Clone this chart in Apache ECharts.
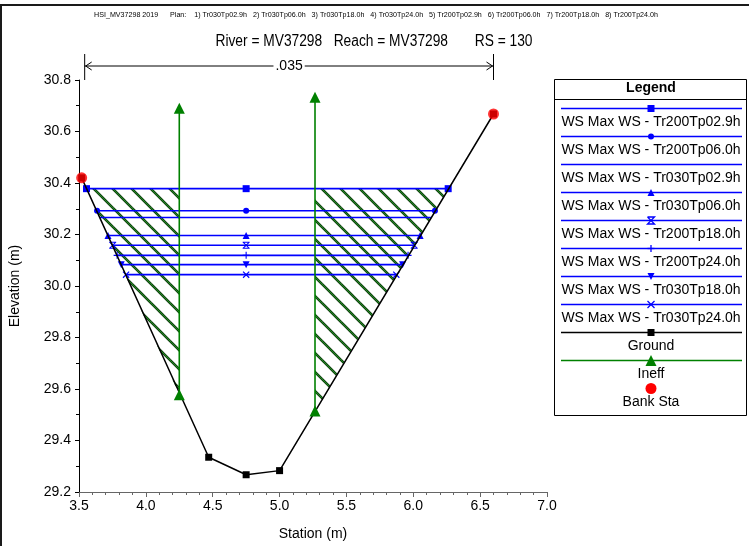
<!DOCTYPE html>
<html><head><meta charset="utf-8">
<script src="https://cdn.jsdelivr.net/npm/echarts@6/dist/echarts.min.js"></script>
<style>html,body{margin:0;padding:0;background:#fff}#c{width:749px;height:546px}</style>
</head><body><div id="c"></div>
<script>
// ---- data ----
const wsNames = ['WS Max WS - Tr200Tp02.9h','WS Max WS - Tr200Tp06.0h','WS Max WS - Tr030Tp02.9h','WS Max WS - Tr030Tp06.0h','WS Max WS - Tr200Tp18.0h','WS Max WS - Tr200Tp24.0h','WS Max WS - Tr030Tp18.0h','WS Max WS - Tr030Tp24.0h'];
const wsElev  = [30.378, 30.292, 30.266, 30.196, 30.158, 30.119, 30.083, 30.044];
const wsLeft  = [3.556, 3.635, 3.654, 3.717, 3.752, 3.785, 3.816, 3.852];
const wsRight = [6.261, 6.162, 6.132, 6.051, 6.007, 5.961, 5.920, 5.873];
const wsMid = 4.75;
const groundSta  = [3.52, 4.47, 4.75, 5.0, 6.6];
const groundElev = [30.42, 29.335, 29.267, 29.283, 30.668];
const bankSta  = [3.52, 6.6];
const bankElev = [30.42, 30.668];
const ineffSta    = [4.25, 5.265];
const ineffBottom = [29.578, 29.515];
const ineffTop    = [30.69, 30.733];
const nValue = '.035';
const xTicks = {min: 3.5, max: 7.0, interval: 0.5};
const yTicks = {min: 29.2, max: 30.8, interval: 0.2};
const titleText = 'River = MV37298   Reach = MV37298       RS = 130';
const subText = 'HSI_MV37298 2019      Plan:    1) Tr030Tp02.9h   2) Tr030Tp06.0h   3) Tr030Tp18.0h   4) Tr030Tp24.0h   5) Tr200Tp02.9h   6) Tr200Tp06.0h   7) Tr200Tp18.0h   8) Tr200Tp24.0h';

// ---- styles ----
const FONT = "'Liberation Sans',Arial,sans-serif";
const BLUE = '#0000ff', GREEN = '#008000';
const P_HOUR = 'path://M0,0 H10 V1.4 H0 Z M0,8.6 H10 V10 H0 Z M0,1 L1,0 L10,9 L9,10 Z M9,0 L10,1 L1,10 L0,9 Z';
const P_PLUS = 'path://M4.2,0 H5.8 V10 H4.2 Z M0,4.2 H10 V5.8 H0 Z';
const P_X = 'path://M0,1.2 L1.2,0 L10,8.8 L8.8,10 Z M8.8,0 L10,1.2 L1.2,10 L0,8.8 Z';
const wsSym = [
  {s:'rect', size:7, rot:0, k:'rect'},
  {s:'circle', size:6, rot:0, k:'circle'},
  {s:'none', size:0, rot:0, k:'none'},
  {s:'triangle', size:7, rot:0, k:'tri'},
  {s:P_HOUR, size:7, rot:0, k:'hour'},
  {s:P_PLUS, size:7, rot:0, k:'plus'},
  {s:'triangle', size:7, rot:180, k:'tridown'},
  {s:P_X, size:7, rot:0, k:'x'}
];

// hatch pattern
const pc = document.createElement('canvas');
const PS = 19; pc.width = PS; pc.height = PS;
(function(){
  const g = pc.getContext('2d');
  function seg(x0,y0,x1,y1){g.beginPath();g.moveTo(x0,y0);g.lineTo(x1,y1);g.stroke();}
  [[ '#0d400d', 2.6],[ '#228b22', 1.0]].forEach(function(st){
    g.strokeStyle = st[0]; g.lineWidth = st[1];
    seg(-2,-2,PS+2,PS+2); seg(-PS-2,-2,2,PS+2); seg(PS-2,-2,2*PS+2,PS+2);
  });
})();

const chart = echarts.init(document.getElementById('c'), null, {renderer:'canvas'});
const series = [];

series.push({
  type:'custom', name:'hatch', silent:true, z:1,
  data:[0,1],
  renderItem:function(params, api){
    const i = api.value(0);
    let pts;
    if (i === 0) {
      pts = [[wsLeft[0], wsElev[0]],[ineffSta[0], wsElev[0]],[ineffSta[0], ineffBottom[0]]];
    } else {
      pts = [[ineffSta[1], wsElev[0]],[wsRight[0], wsElev[0]],[ineffSta[1], ineffBottom[1]]];
    }
    return {type:'polygon', shape:{points: pts.map(function(p){return api.coord(p);})},
      style:{fill:{image:pc, repeat:'repeat'}, stroke:null}};
  }
});

wsNames.forEach(function(n, i){
  const sy = wsSym[i];
  series.push({
    type:'line', name:n, z:3,
    data:[[wsLeft[i], wsElev[i]],[wsMid, wsElev[i]],[wsRight[i], wsElev[i]]],
    showSymbol: sy.s !== 'none', symbol: sy.s === 'none' ? 'none' : sy.s,
    symbolSize: sy.size, symbolRotate: sy.rot,
    lineStyle:{color:BLUE, width:1.6}, itemStyle:{color:BLUE},
    animation:false
  });
});

series.push({
  type:'line', name:'Ground', z:4,
  data: groundSta.map(function(s,i){return [s, groundElev[i]];}),
  symbol:'rect', symbolSize:7,
  lineStyle:{color:'#000', width:1.5}, itemStyle:{color:'#000'}, animation:false
});

ineffSta.forEach(function(s,i){
  series.push({
    type:'line', name:'Ineff', z:5,
    data:[[s, ineffBottom[i]],[s, ineffTop[i]]],
    symbol:'triangle', symbolSize:11,
    lineStyle:{color:GREEN, width:1.6}, itemStyle:{color:GREEN}, animation:false
  });
});

series.push({
  type:'scatter', name:'Bank Sta', z:6,
  data: bankSta.map(function(s,i){return [s, bankElev[i]];}),
  symbol:'circle', symbolSize:11, itemStyle:{color:'#ff0000'}, animation:false
});

const option = {
  animation:false,
  backgroundColor:'#fff',
  grid:{left:79, top:80, right:202, bottom:53, containLabel:false},
  xAxis:{
    type:'value', min:xTicks.min, max:xTicks.max, interval:xTicks.interval,
    name:'Station (m)', nameLocation:'middle', nameGap:35,
    nameTextStyle:{fontFamily:FONT, fontSize:14, color:'#000'},
    axisLine:{show:true, onZero:false, lineStyle:{color:'#666', width:1}},
    axisTick:{show:true, inside:false, length:5, lineStyle:{color:'#666'}},
    minorTick:{show:true, splitNumber:5, length:3, lineStyle:{color:'#666'}},
    splitLine:{show:false},
    axisLabel:{fontFamily:FONT, fontSize:14, color:'#000', margin:7, formatter:function(v){return v.toFixed(1);}}
  },
  yAxis:{
    type:'value', min:yTicks.min, max:yTicks.max, interval:yTicks.interval,
    name:'Elevation (m)', nameLocation:'middle', nameGap:57,
    nameTextStyle:{fontFamily:FONT, fontSize:14, color:'#000'},
    axisLine:{show:true, onZero:false, lineStyle:{color:'#000', width:1}},
    axisTick:{show:true, inside:false, length:4, lineStyle:{color:'#000'}},
    minorTick:{show:true, splitNumber:2, length:3, lineStyle:{color:'#000'}},
    splitLine:{show:false},
    axisLabel:{fontFamily:FONT, fontSize:14, color:'#000', margin:8, formatter:function(v){return v.toFixed(1);}}
  },
  series: series
};
chart.setOption(option);

// ---- titles, annotation (.035 between bank stations) and legend ----
const xL = chart.convertToPixel({xAxisIndex:0}, bankSta[0]) + 3;
const xR = chart.convertToPixel({xAxisIndex:0}, bankSta[1]);
const ay = 66;
const g = [];
g.push({type:'text', x:374, y:42, scaleX:0.86, style:{text:titleText, font:'16px '+FONT, fill:'#000', align:'center', verticalAlign:'middle'}});
g.push({type:'text', x:376, y:14.5, scaleX:0.89, style:{text:subText, font:'8px '+FONT, fill:'#000', align:'center', verticalAlign:'middle'}});
g.push({type:'line', shape:{x1:0, y1:5, x2:749, y2:5}, style:{stroke:'#1a1a1a', lineWidth:2}, z:100});
g.push({type:'line', shape:{x1:1, y1:4, x2:1, y2:546}, style:{stroke:'#1a1a1a', lineWidth:2}, z:100});
g.push({type:'line', shape:{x1:xL, y1:54, x2:xL, y2:80}, style:{stroke:'#000', lineWidth:1}});
g.push({type:'line', shape:{x1:xR, y1:54, x2:xR, y2:80}, style:{stroke:'#000', lineWidth:1}});
g.push({type:'line', shape:{x1:xL, y1:ay, x2:xR, y2:ay}, style:{stroke:'#000', lineWidth:1}});
g.push({type:'polyline', shape:{points:[[xL+7,ay-4],[xL+1,ay],[xL+7,ay+4]]}, style:{stroke:'#000', lineWidth:1, fill:null}});
g.push({type:'polyline', shape:{points:[[xR-7,ay-4],[xR-1,ay],[xR-7,ay+4]]}, style:{stroke:'#000', lineWidth:1, fill:null}});
g.push({type:'text', x:(xL+xR)/2, y:ay, style:{text:nValue, font:'14px '+FONT, fill:'#000', align:'center', verticalAlign:'middle', backgroundColor:'#fff', padding:[0,2]}, z:101});

const LX = 554, LY = 79, LW = 192, LH = 336, CX = 651;
g.push({type:'rect', shape:{x:LX+0.5, y:LY+0.5, width:LW, height:LH}, style:{fill:'#fff', stroke:'#000', lineWidth:1}, z:50});
g.push({type:'text', x:CX, y:88.5, style:{text:'Legend', font:'bold 14px '+FONT, fill:'#000', align:'center', verticalAlign:'middle'}, z:51});
g.push({type:'line', shape:{x1:LX, y1:99.5, x2:LX+LW, y2:99.5}, style:{stroke:'#000', lineWidth:1}, z:51});

function symEls(kind, size, color, cx, cy){
  const h = size/2;
  const st = {stroke:color, lineWidth:1.3, fill:null};
  switch(kind){
    case 'rect': return [{type:'rect', shape:{x:cx-h, y:cy-h, width:size, height:size}, style:{fill:color}, z:53}];
    case 'circle': return [{type:'circle', shape:{cx:cx, cy:cy, r:h}, style:{fill:color}, z:53}];
    case 'tri': return [{type:'polygon', shape:{points:[[cx-h,cy+h],[cx+h,cy+h],[cx,cy-h]]}, style:{fill:color}, z:53}];
    case 'tridown': return [{type:'polygon', shape:{points:[[cx-h,cy-h],[cx+h,cy-h],[cx,cy+h]]}, style:{fill:color}, z:53}];
    case 'hour': return [{type:'polyline', shape:{points:[[cx-h,cy-h],[cx+h,cy-h],[cx-h,cy+h],[cx+h,cy+h],[cx-h,cy-h]]}, style:st, z:53}];
    case 'plus': return [{type:'line', shape:{x1:cx-h,y1:cy,x2:cx+h,y2:cy}, style:st, z:53},{type:'line', shape:{x1:cx,y1:cy-h,x2:cx,y2:cy+h}, style:st, z:53}];
    case 'x': return [{type:'line', shape:{x1:cx-h,y1:cy-h,x2:cx+h,y2:cy+h}, style:st, z:53},{type:'line', shape:{x1:cx+h,y1:cy-h,x2:cx-h,y2:cy+h}, style:st, z:53}];
  }
  return [];
}

const entries = wsNames.map(function(n,i){return {name:n, color:BLUE, k:wsSym[i].k, size:wsSym[i].size, line:true};});
entries.push({name:'Ground', color:'#000', k:'rect', size:7, line:true});
entries.push({name:'Ineff', color:GREEN, k:'tri', size:11, line:true});
entries.push({name:'Bank Sta', color:'#ff0000', k:'circle', size:11, line:false});
entries.forEach(function(e, i){
  const ly = 108.5 + 28*i;
  if (e.line) g.push({type:'line', shape:{x1:561, y1:ly, x2:742, y2:ly}, style:{stroke:e.color, lineWidth:1.5}, z:52});
  symEls(e.k, e.size, e.color, CX, ly).forEach(function(s){g.push(s);});
  g.push({type:'text', x:CX, y:ly+13.5, style:{text:e.name, font:'14px '+FONT, fill:'#000', align:'center', verticalAlign:'middle'}, z:52});
});

chart.setOption({graphic:{elements:g}});
</script>
</body></html>
